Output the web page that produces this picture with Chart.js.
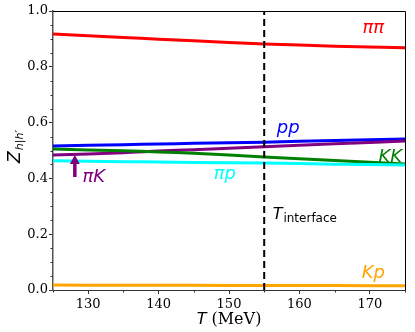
<!DOCTYPE html>
<html>
<head>
<meta charset="utf-8">
<script src="https://cdn.jsdelivr.net/npm/chart.js@4/dist/chart.umd.min.js"></script>
<style>
  html, body { margin: 0; padding: 0; background: #fff; }
  #wrap { width: 415px; height: 332px; }
</style>
</head>
<body>
<div id="wrap"><canvas id="myChart" width="415" height="332"></canvas></div>
<script>
'use strict';

// * Temperature grid (MeV) and the six Z_{h|h'} curves.
const temps = [125, 135, 140, 145, 155, 165, 175];
const zPiPi = [0.918, 0.905, 0.899, 0.893, 0.882, 0.874, 0.868];
const zPP = [0.516, 0.521, 0.523, 0.526, 0.530, 0.536, 0.541];
const zPiK = [0.484, 0.492, 0.498, 0.503, 0.513, 0.524, 0.534];
const zKK = [0.505, 0.499, 0.495, 0.490, 0.477, 0.464, 0.452];
const zPiP = [0.463, 0.460, 0.459, 0.457, 0.455, 0.451, 0.448];
const zKP = [0.018, 0.017, 0.017, 0.017, 0.016, 0.016, 0.015];

const xTicks = [130, 140, 150, 160, 170];
const yTicks = [0, 0.2, 0.4, 0.6, 0.8, 1.0];
const xMinor = [125, 135, 145, 155, 165, 175];
const yMinor = [0.05, 0.1, 0.15, 0.25, 0.3, 0.35, 0.45, 0.5, 0.55, 0.65, 0.7, 0.75, 0.85, 0.9, 0.95];

const tInterface = 155;

// * Curve labels: [text, T, Z baseline, colour]
const curveLabels = [
  ['ππ', 170.5, 0.920, 'red'],
  ['pp', 158.4, 0.563, 'blue'],
  ['KK', 172.9, 0.459, 'green'],
  ['πK', 130.8, 0.387, 'purple'],
  ['πp', 149.4, 0.398, 'cyan'],
  ['Kp', 170.5, 0.043, 'orange'],
];

const pts = (ys) => temps.map((t, i) => ({ x: t, y: ys[i] }));

const line = (ys, color) => ({
  data: pts(ys),
  borderColor: color,
  borderWidth: 3,
  pointRadius: 0,
  tension: 0.3,
  fill: false,
});

const extras = {
  id: 'extras',
  afterDraw(chart) {
    const { ctx, chartArea: a, scales: { x, y } } = chart;
    ctx.save();

    // minor ticks
    ctx.strokeStyle = '#333';
    ctx.lineWidth = 1;
    ctx.beginPath();
    xMinor.forEach((v) => {
      const px = Math.round(x.getPixelForValue(v)) + 0.5;
      ctx.moveTo(px, a.bottom);
      ctx.lineTo(px, a.bottom + 2.5);
    });
    yMinor.forEach((v) => {
      const py = Math.round(y.getPixelForValue(v)) + 0.5;
      ctx.moveTo(a.left, py);
      ctx.lineTo(a.left - 2.5, py);
    });
    ctx.stroke();

    // top + right frame
    ctx.strokeStyle = '#000';
    ctx.lineWidth = 1;
    ctx.beginPath();
    ctx.moveTo(a.left, a.top + 0.5);
    ctx.lineTo(a.right + 0.5, a.top + 0.5);
    ctx.lineTo(a.right + 0.5, a.bottom);
    ctx.stroke();

    // curve labels
    ctx.font = 'italic 18px "DejaVu Sans"';
    ctx.textAlign = 'center';
    ctx.textBaseline = 'alphabetic';
    curveLabels.forEach(([txt, t, z, c]) => {
      ctx.fillStyle = c;
      ctx.fillText(txt, x.getPixelForValue(t), y.getPixelForValue(z));
    });

    // arrow pointing at the piK curve
    const ax = x.getPixelForValue(128.1);
    const tip = y.getPixelForValue(0.484);
    const tail = y.getPixelForValue(0.405);
    ctx.strokeStyle = 'purple';
    ctx.fillStyle = 'purple';
    ctx.lineWidth = 3.5;
    ctx.beginPath();
    ctx.moveTo(ax, tail);
    ctx.lineTo(ax, tip + 7);
    ctx.stroke();
    ctx.beginPath();
    ctx.moveTo(ax, tip);
    ctx.lineTo(ax - 5, tip + 9);
    ctx.lineTo(ax + 5, tip + 9);
    ctx.closePath();
    ctx.fill();

    // T_interface label
    ctx.fillStyle = '#000';
    ctx.textAlign = 'left';
    const tx = x.getPixelForValue(156.2);
    const ty = y.getPixelForValue(0.254);
    ctx.font = 'italic 16px "DejaVu Sans"';
    ctx.fillText('T', tx, ty);
    const tw = ctx.measureText('T').width;
    ctx.font = '12px "DejaVu Sans"';
    ctx.fillText('interface', tx + tw + 1, ty + 3);

    // x axis title
    ctx.font = 'italic 16px "DejaVu Sans"';
    const w1 = ctx.measureText('T').width;
    ctx.font = '16px "DejaVu Serif"';
    const w2 = ctx.measureText(' (MeV)').width;
    const sx = (a.left + a.right) / 2 - (w1 + w2) / 2;
    ctx.font = 'italic 16px "DejaVu Sans"';
    ctx.fillText('T', sx, 324);
    ctx.font = '16px "DejaVu Serif"';
    ctx.fillText(' (MeV)', sx + w1, 324);

    // y axis title
    ctx.translate(20, 147);
    ctx.rotate(-Math.PI / 2);
    ctx.font = 'italic 17px "DejaVu Sans"';
    const zw = ctx.measureText('Z').width;
    ctx.font = 'italic 11px "DejaVu Sans"';
    const sw = ctx.measureText('h|h′').width;
    const start = -(zw + sw) / 2;
    ctx.font = 'italic 17px "DejaVu Sans"';
    ctx.fillText('Z', start, 0);
    ctx.font = 'italic 11px "DejaVu Sans"';
    ctx.fillText('h|h′', start + zw + 1, 3);

    ctx.restore();
  },
};

const graph = {
  chart: null,

  charting() {
    const ctx = document.getElementById('myChart').getContext('2d');
    graph.chart = new Chart(ctx, {
      type: 'line',
      data: {
        datasets: [
          {
            data: [{ x: tInterface, y: 0 }, { x: tInterface, y: 1 }],
            borderColor: '#000',
            borderWidth: 2,
            borderDash: [7, 4],
            pointRadius: 0,
          },
          line(zPiPi, 'red'),
          line(zPiP, 'cyan'),
          line(zKK, 'green'),
          line(zPiK, 'purple'),
          line(zPP, 'blue'),
          line(zKP, 'orange'),
        ],
      },
      options: {
        responsive: false,
        animation: false,
        layout: { padding: { left: 0, right: 10, top: 11, bottom: 0 } },
        plugins: { legend: { display: false }, tooltip: { enabled: false } },
        scales: {
          x: {
            type: 'linear',
            min: 125,
            max: 175,
            afterBuildTicks: (s) => { s.ticks = xTicks.map((v) => ({ value: v })); },
            afterFit: (s) => { s.height = 42; },
            grid: { drawOnChartArea: false, tickLength: 4, color: '#333' },
            border: { color: '#333', width: 1 },
            ticks: {
              padding: 3,
              color: '#000',
              maxRotation: 0,
              font: { family: 'DejaVu Serif', size: 13 },
            },
          },
          y: {
            min: 0,
            max: 1,
            afterBuildTicks: (s) => { s.ticks = yTicks.map((v) => ({ value: v })); },
            afterFit: (s) => { s.width = 53; },
            grid: { drawOnChartArea: false, tickLength: 4, color: '#333' },
            border: { color: '#555', width: 1.5 },
            ticks: {
              padding: 1,
              color: '#000',
              callback: (v) => v.toFixed(1),
              font: { family: 'DejaVu Serif', size: 13 },
            },
          },
        },
      },
      plugins: [extras],
    });
  },
};

window.addEventListener('load', () => graph.charting());
</script>
</body>
</html>
